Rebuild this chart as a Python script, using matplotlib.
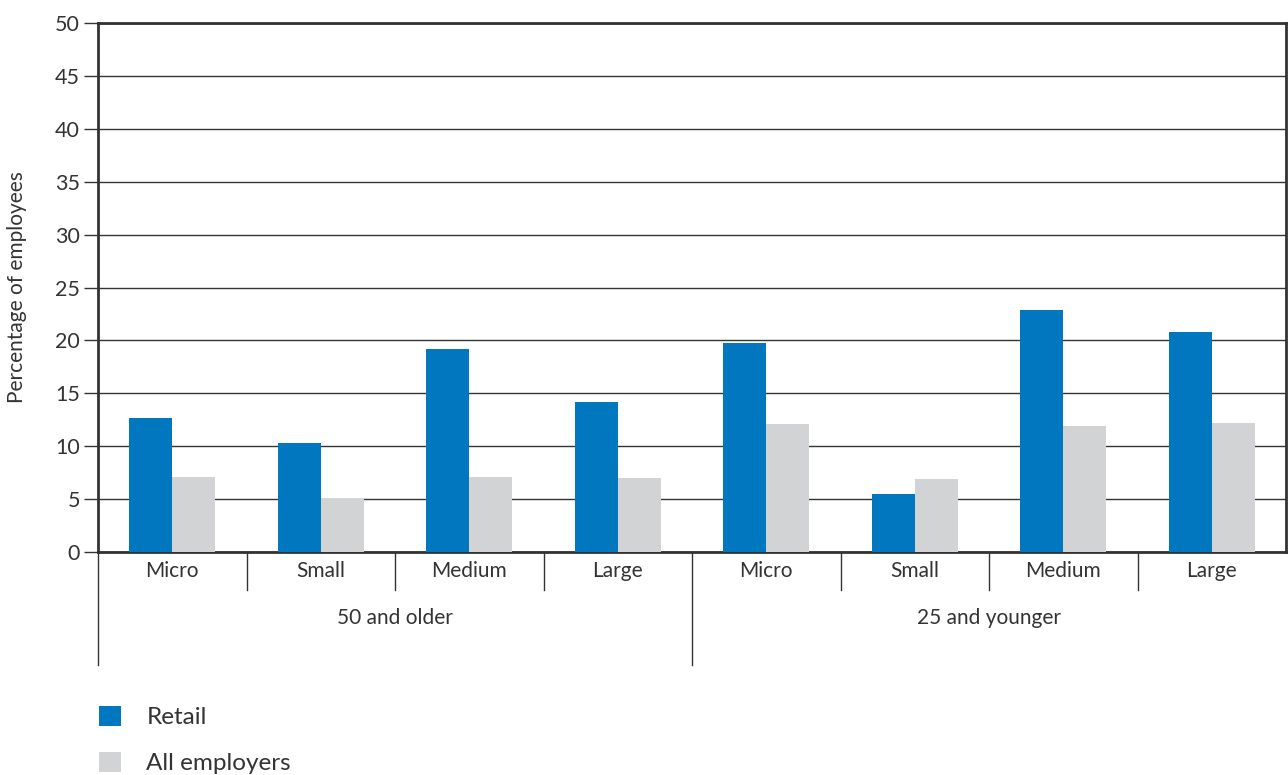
import numpy as np
import matplotlib.pyplot as plt
from matplotlib.transforms import blended_transform_factory

plt.rcParams['font.family'] = ['Lato', 'DejaVu Sans']

# data
sizes = ['Micro', 'Small', 'Medium', 'Large', 'Micro', 'Small', 'Medium', 'Large']
age_groups = ['50 and older', '25 and younger']
retail = [12.7, 10.3, 19.2, 14.2, 19.8, 5.5, 22.9, 20.8]
all_employers = [7.1, 5.0, 7.1, 7.0, 12.1, 6.9, 11.9, 12.2]

blue = '#0077BF'
grey = '#D2D3D5'
ink = '#333333'

fig = plt.figure(figsize=(12.88, 7.75), dpi=100)
ax = fig.add_axes([98 / 1288, 1 - 552 / 775, (1286 - 98) / 1288, (552 - 23) / 775])

x = np.arange(len(sizes))
w = 0.29
b1 = ax.bar(x - w / 2, retail, w, color=blue, label='Retail', zorder=3)
b2 = ax.bar(x + w / 2, all_employers, w, color=grey, label='All employers', zorder=3)

ax.set_xlim(-0.5, len(sizes) - 0.5)
ax.set_ylim(0, 50)
ax.set_yticks(np.arange(0, 51, 5))
ax.yaxis.grid(True, color=ink, linewidth=1.0)
ax.set_axisbelow(True)
ax.tick_params(axis='y', length=10, width=1, color=ink, labelsize=15.5, labelcolor=ink, pad=3)
ax.set_xticks([])
for s in ax.spines.values():
    s.set_color(ink)
    s.set_linewidth(2)

ax.set_ylabel('Percentage of employees', fontsize=15, color=ink, labelpad=20)

# category labels and separators under the axis
tr = blended_transform_factory(ax.transData, ax.transAxes)
for i, name in enumerate(sizes):
    ax.text(i, -0.036, name, transform=tr, ha='center', va='center', fontsize=15, color=ink)
for k in range(len(sizes)):
    edge = k - 0.5
    bottom = -0.214 if k % 4 == 0 else -0.072
    ax.plot([edge, edge], [0, bottom], transform=tr, color=ink, linewidth=1, clip_on=False)

for g, name in enumerate(age_groups):
    ax.text(g * 4 + 1.5, -0.125, name, transform=tr, ha='center', va='center', fontsize=15, color=ink)

fig.legend(handles=[b1, b2], loc='upper left', bbox_to_anchor=(99 / 1288, 1 - 706 / 775),
           frameon=False, fontsize=17.5, handlelength=0.9, handleheight=0.9,
           handletextpad=1.05, labelspacing=0.95, borderpad=0, borderaxespad=0,
           labelcolor=ink)

fig.savefig('out.png', dpi=100)
